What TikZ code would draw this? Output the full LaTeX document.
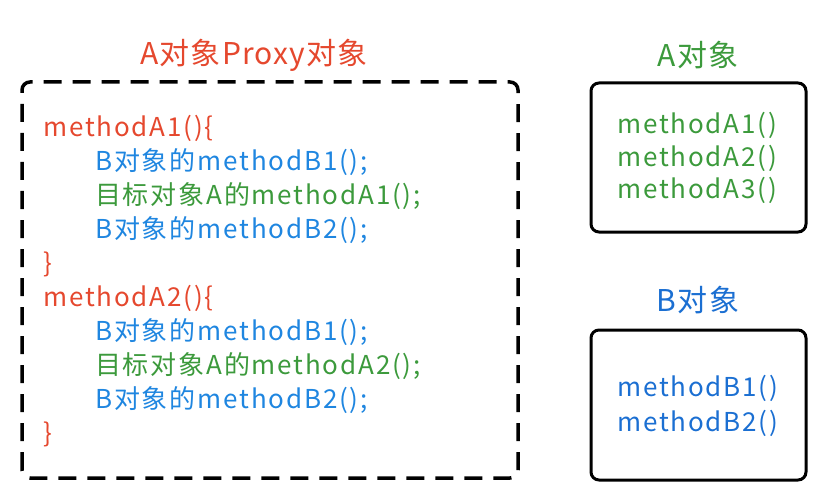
\documentclass[tikz,border=0pt]{standalone}
\usepackage{fontspec}
\setmainfont{Noto Sans CJK SC}
\newfontfamily\codefont{Noto Sans CJK SC}[LetterSpace=7]
\newfontfamily\titlefont{Noto Sans CJK SC}[LetterSpace=4]
\usepackage{tikz}
\usetikzlibrary{positioning}
\definecolor{proxyred}{HTML}{E5482E}
\definecolor{callblue}{HTML}{1F86E0}
\definecolor{callgreen}{HTML}{3C9A3C}
\definecolor{objblue}{HTML}{1B6FD2}

\tikzset{
  code/.style={anchor=west, inner sep=0pt, font=\codefont\fontsize{26}{30}\selectfont},
  title/.style={inner sep=0pt, font=\titlefont\fontsize{30}{34}\selectfont},
  proxybox/.style={line width=3.5pt, dash pattern=on 18pt off 11pt, rounded corners=8pt},
  objbox/.style={line width=3pt, rounded corners=8pt}
}

\begin{document}
\begin{tikzpicture}[x=1pt,y=1pt]
\useasboundingbox (0,0) rectangle (821,496);
% proxy object
\node[title, text=proxyred] (ptitle) at (254,441) {A对象Proxy对象};
\draw[proxybox] (22,18) rectangle (518,414);
\node[code, text=proxyred]  (pa1)  at (43,368) {methodA1()\{};
\node[code, text=callblue]  (pa1b) at (95,334) {B对象的methodB1();};
\node[code, text=callgreen] (pa1t) at (95,300) {目标对象A的methodA1();};
\node[code, text=callblue]  (pa1e) at (95,266) {B对象的methodB2();};
\node[code, text=proxyred]  (pa1c) at (43,232) {\}};
\node[code, text=proxyred]  (pa2)  at (43,198) {methodA2()\{};
\node[code, text=callblue]  (pa2b) at (95,164) {B对象的methodB1();};
\node[code, text=callgreen] (pa2t) at (95,130) {目标对象A的methodA2();};
\node[code, text=callblue]  (pa2e) at (95,96)  {B对象的methodB2();};
\node[code, text=proxyred]  (pa2c) at (43,62)  {\}};
% target object A
\node[title, text=callgreen] (atitle) at (698,441) {A对象};
\draw[objbox] (591,264) rectangle (806,413);
\node[code, text=callgreen] (am1) at (617,371) {methodA1()};
\node[code, text=callgreen] (am2) at (617,338) {methodA2()};
\node[code, text=callgreen] (am3) at (617,306) {methodA3()};
% object B
\node[title, text=objblue] (btitle) at (698,196) {B对象};
\draw[objbox] (591,16) rectangle (806,166);
\node[code, text=objblue] (bm1) at (617,108) {methodB1()};
\node[code, text=objblue] (bm2) at (617,73)  {methodB2()};
\end{tikzpicture}
\end{document}
